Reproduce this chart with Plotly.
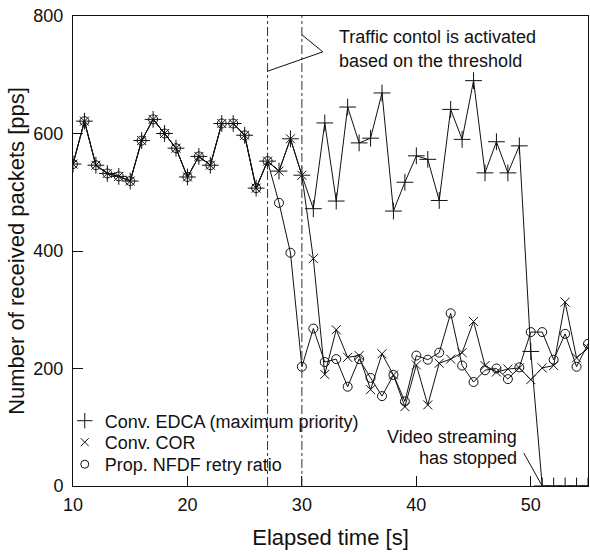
import plotly.graph_objects as go

time_s = list(range(10, 56))

edca = [548, 621, 546, 532, 527, 519, 588, 624, 600, 575, 526, 561, 546, 617, 617, 597, 507,
        553, 536, 591, 529, 472, 618, 485, 645, 584, 592, 669, 468, 517, 562, 556, 486, 641,
        590, 690, 533, 586, 533, 579, 229, 0, 0, 0, 0, 0]

cor = [548, 621, 546, 532, 527, 519, 588, 624, 600, 575, 526, 561, 546, 617, 617, 597, 507,
       553, 536, 591, 529, 387, 190, 266, 219, 222, 164, 225, 189, 135, 206, 138, 209, 216,
       227, 280, 205, 194, 199, 201, 181, 201, 205, 313, 218, 235]

nfdf = [548, 621, 546, 532, 527, 519, 588, 624, 600, 575, 526, 561, 546, 617, 617, 597, 507,
        553, 482, 397, 203, 268, 211, 216, 169, 216, 184, 153, 189, 144, 222, 215, 227, 294,
        205, 177, 197, 200, 182, 202, 262, 262, 215, 259, 203, 242]

series_names = ["Conv. EDCA (maximum priority)", "Conv. COR", "Prop. NFDF retry ratio"]
x_ticks = [10, 20, 30, 40, 50]
y_ticks = [0, 200, 400, 600, 800]
event_times = [27, 30]

FONT = "Liberation Sans, Arial, Helvetica, sans-serif"
BLACK = "#111111"

fig = go.Figure()

specs = [
    (edca, "cross-thin", 12),
    (cor, "x-thin", 9),
    (nfdf, "circle-open", 9),
]
for (vals, sym, sz), name in zip(specs, series_names):
    fig.add_trace(go.Scatter(
        x=time_s, y=vals, mode="lines+markers", showlegend=False,
        line=dict(color=BLACK, width=1),
        marker=dict(symbol=sym, size=sz, color=BLACK, line=dict(color=BLACK, width=1)),
    ))

# legend-only traces (marker only), one legend per entry for exact row spacing
legend_ids = ["legend", "legend2", "legend3"]
for (vals, sym, sz), name, lid in zip(specs, series_names, legend_ids):
    fig.add_trace(go.Scatter(
        x=[None], y=[None], mode="markers", name=name, legend=lid,
        marker=dict(symbol=sym, size=sz - 1, color=BLACK, line=dict(color=BLACK, width=1)),
    ))

# vertical dash-dot lines
for t in event_times:
    fig.add_shape(type="line", x0=t, x1=t, y0=0, y1=800, xref="x", yref="y",
                  line=dict(color="#333333", width=1, dash="dashdot"))

# annotation pointer lines
fig.add_shape(type="line", x0=31.83, y0=739, x1=30, y1=768, line=dict(color=BLACK, width=1))
fig.add_shape(type="line", x0=31.83, y0=739, x1=27, y1=706, line=dict(color=BLACK, width=1))
fig.add_shape(type="line", x0=49.39, y0=56, x1=51, y1=0, line=dict(color=BLACK, width=1))

fig.add_annotation(x=33.06, y=765, xref="x", yref="y", text="Traffic contol is activated",
                   showarrow=False, xanchor="left", yanchor="middle",
                   font=dict(family=FONT, size=18, color=BLACK))
fig.add_annotation(x=33.06, y=724, xref="x", yref="y", text="based on the threshold",
                   showarrow=False, xanchor="left", yanchor="middle",
                   font=dict(family=FONT, size=18, color=BLACK))
fig.add_annotation(x=48.95, y=83, xref="x", yref="y", text="Video streaming",
                   showarrow=False, xanchor="right", yanchor="middle",
                   font=dict(family=FONT, size=18, color=BLACK))
fig.add_annotation(x=48.95, y=47, xref="x", yref="y", text="has stopped",
                   showarrow=False, xanchor="right", yanchor="middle",
                   font=dict(family=FONT, size=18, color=BLACK))

leg_common = dict(x=-0.016, xanchor="left", yanchor="top",
                  bgcolor="rgba(0,0,0,0)", font=dict(size=18), itemsizing="trace")

fig.update_layout(
    width=590, height=554,
    margin=dict(l=73, r=2, t=16, b=68),
    paper_bgcolor="white", plot_bgcolor="white",
    font=dict(family=FONT, size=18, color=BLACK),
    legend=dict(y=0.1777, **leg_common),
    legend2=dict(y=0.1319, **leg_common),
    legend3=dict(y=0.0851, **leg_common),
    xaxis=dict(range=[10, 55], tickvals=x_ticks, ticks="inside", ticklen=10,
               tickcolor=BLACK, showline=True, mirror=True, linecolor=BLACK, linewidth=1,
               showgrid=False, zeroline=False, ticklabelstandoff=2,
               title=dict(text="Elapsed time [s]", standoff=16)),
    yaxis=dict(range=[0, 800], tickvals=y_ticks, ticks="inside", ticklen=10,
               tickcolor=BLACK, showline=True, mirror=True, linecolor=BLACK, linewidth=1,
               showgrid=False, zeroline=False, ticklabelstandoff=5,
               title=dict(text="Number of received packets [pps]", standoff=2)),
)

fig.write_html("out.html")
